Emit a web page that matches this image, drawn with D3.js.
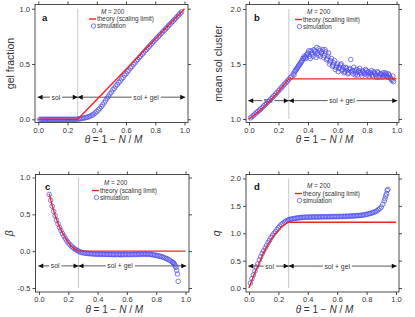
<!DOCTYPE html>
<html><head><meta charset="utf-8">
<script src="https://cdn.jsdelivr.net/npm/d3@7"></script>
<style>
body{margin:0;background:#fff;}
svg{display:block;font-family:"Liberation Sans",Arial,Helvetica,sans-serif;}
</style></head>
<body><svg id="c" width="415" height="317"></svg>
<script>
// ---------- data ----------
const theta = [0.01,0.02,0.03,0.04,0.05,0.06,0.07,0.08,0.09,0.10,
0.11,0.12,0.13,0.14,0.15,0.16,0.17,0.18,0.19,0.20,
0.21,0.22,0.23,0.24,0.25,0.26,0.27,0.28,0.29,0.30,
0.31,0.32,0.33,0.34,0.35,0.36,0.37,0.38,0.39,0.40,
0.41,0.42,0.43,0.44,0.45,0.46,0.47,0.48,0.49,0.50,
0.51,0.52,0.53,0.54,0.55,0.56,0.57,0.58,0.59,0.60,
0.61,0.62,0.63,0.64,0.65,0.66,0.67,0.68,0.69,0.70,
0.71,0.72,0.73,0.74,0.75,0.76,0.77,0.78,0.79,0.80,
0.81,0.82,0.83,0.84,0.85,0.86,0.87,0.88,0.89,0.90,
0.91,0.92,0.93,0.94,0.95,0.96,0.97,0.98];

const gelSim = [0,0,0,0,0,0,0,0,0,0,
0,0,0,0,0,0,0,0,0,0,
0,0,0,0,0,0,0.002,0.004,0.006,0.009,
0.011,0.014,0.017,0.021,0.026,0.032,0.039,0.048,0.058,0.070,
0.084,0.098,0.114,0.131,0.150,0.168,0.190,0.208,0.229,0.245,
0.266,0.280,0.301,0.314,0.333,0.346,0.366,0.378,0.399,0.412,
0.432,0.445,0.464,0.477,0.496,0.510,0.528,0.541,0.559,0.572,
0.588,0.602,0.618,0.631,0.647,0.661,0.676,0.690,0.705,0.718,
0.733,0.746,0.761,0.774,0.789,0.802,0.817,0.830,0.845,0.858,
0.873,0.886,0.900,0.914,0.929,0.943,0.957,0.971];

const solSim = [1.01,1.02,1.033,1.045,1.057,1.068,1.08,1.092,1.105,1.118,
1.13,1.143,1.157,1.17,1.184,1.198,1.212,1.226,1.241,1.256,
1.27,1.285,1.30,1.315,1.33,1.345,1.36,1.375,1.39,1.41,
1.43,1.45,1.47,1.49,1.51,1.53,1.55,1.56,1.58,1.60,
1.57,1.62,1.59,1.63,1.61,1.65,1.58,1.62,1.60,1.63,
1.58,1.61,1.55,1.60,1.52,1.55,1.49,1.53,1.47,1.50,
1.46,1.49,1.44,1.47,1.43,1.46,1.41,1.45,1.54,1.44,
1.47,1.40,1.45,1.43,1.46,1.41,1.44,1.42,1.45,1.40,
1.43,1.41,1.44,1.39,1.42,1.40,1.43,1.38,1.41,1.40,
1.42,1.39,1.41,1.38,1.40,1.37,1.35,1.34];

const solExtraTheta = [0.305,0.315,0.325,0.335,0.345,0.355,0.365,0.375,0.385,0.395,
0.405,0.415,0.425,0.435,0.445,0.455,0.465,0.475,0.485,0.495,
0.505,0.515,0.525,0.535,0.545,0.555,0.565,0.575,0.585,0.595,
0.605,0.615,0.625,0.635,0.645,0.655,0.665,0.675,0.685,0.695,
0.705,0.715,0.725,0.735,0.745,0.755,0.765,0.775,0.785,0.795,
0.805,0.815,0.825,0.835,0.845,0.855,0.865,0.875,0.885,0.895,
0.905,0.915,0.925,0.935,0.945,0.955,0.965,0.975];
const solExtraVal = [1.40,1.44,1.46,1.48,1.50,1.52,1.55,1.57,1.55,1.59,
1.62,1.55,1.60,1.57,1.62,1.56,1.60,1.64,1.57,1.61,
1.56,1.63,1.54,1.57,1.50,1.53,1.48,1.51,1.45,1.48,
1.43,1.47,1.50,1.45,1.42,1.47,1.44,1.42,1.46,1.43,
1.41,1.44,1.42,1.40,1.44,1.42,1.39,1.43,1.41,1.44,
1.42,1.39,1.42,1.40,1.43,1.41,1.38,1.42,1.39,1.41,
1.38,1.40,1.42,1.39,1.41,1.38,1.36,1.39];

const betaSim = [null,null,null,null,null,null,0.77,0.69,0.61,0.54,
0.48,0.42,0.37,0.32,0.28,0.24,0.205,0.17,0.14,0.115,
0.09,0.07,0.052,0.036,0.022,0.01,0.0,-0.01,-0.016,-0.021,
-0.025,-0.028,-0.03,-0.033,-0.034,-0.036,-0.038,-0.039,-0.04,-0.042,
-0.04,-0.043,-0.041,-0.044,-0.042,-0.045,-0.043,-0.046,-0.044,-0.047,
-0.045,-0.048,-0.044,-0.047,-0.045,-0.048,-0.044,-0.047,-0.043,-0.046,
-0.044,-0.047,-0.043,-0.046,-0.042,-0.045,-0.041,-0.044,-0.04,-0.043,
-0.039,-0.042,-0.04,-0.043,-0.04,-0.044,-0.047,-0.05,-0.053,-0.057,
-0.061,-0.066,-0.071,-0.077,-0.084,-0.092,-0.10,-0.11,-0.12,-0.132,
-0.147,-0.165,-0.20,-0.26,-0.41,null,null,null];
const betaExtraTheta = [0.915,0.925,0.935,0.945];
const betaExtraVal = [-0.155,-0.18,-0.22,-0.31];

const qSim = [0.09,0.17,0.24,0.31,0.38,0.44,0.51,0.57,0.63,0.68,
0.73,0.78,0.83,0.87,0.92,0.96,1.0,1.03,1.07,1.10,
1.13,1.16,1.18,1.20,1.22,1.235,1.245,1.255,1.26,1.265,
1.27,1.275,1.28,1.283,1.286,1.289,1.29,1.292,1.294,1.295,
1.293,1.297,1.295,1.299,1.296,1.30,1.297,1.301,1.298,1.302,
1.299,1.303,1.30,1.304,1.30,1.305,1.301,1.306,1.302,1.307,
1.303,1.308,1.304,1.31,1.305,1.312,1.307,1.315,1.31,1.318,
1.313,1.32,1.318,1.325,1.322,1.33,1.328,1.335,1.34,1.345,
1.35,1.36,1.365,1.375,1.385,1.395,1.41,1.43,1.45,1.48,
1.53,1.59,1.68,1.78,null,null,null,null];
const qExtraTheta = [0.925,0.935,0.945];
const qExtraVal = [1.63,1.72,1.80];

const gelTheoryT = [0, 0.27, 1.0];
const gelTheoryV = [0, 0, 1.0];
const solTheoryT = [0, 0.05, 0.10, 0.15, 0.20, 0.27, 1.0];
const solTheoryV = [1.0, 1.05, 1.11, 1.175, 1.25, 1.365, 1.365];
const betaTheoryT = [0.07,0.08,0.09,0.10,0.12,0.14,0.16,0.18,0.20,0.22,0.24,0.26,0.27,1.0];
const betaTheoryV = [0.78,0.70,0.62,0.55,0.43,0.33,0.25,0.18,0.12,0.07,0.035,0.01,0,0];
const qTheoryT = [0,0.02,0.04,0.06,0.08,0.10,0.12,0.14,0.16,0.18,0.20,0.22,0.24,0.27,1.0];
const qTheoryV = [0,0.14,0.28,0.40,0.52,0.65,0.75,0.84,0.92,0.99,1.05,1.11,1.15,1.2,1.2];

const thetaC = 0.27;
const xTicks = [0, 0.2, 0.4, 0.6, 0.8, 1.0];
const gelTicks = [0, 0.5, 1.0];
const solTicks = [1.0, 1.5, 2.0];
const betaTicks = [-0.5, 0, 0.5, 1.0];
const qTicks = [0, 0.5, 1.0, 1.5, 2.0];
const legendTexts = ["M = 200", "theory (scaling limit)", "simulation"];
const regionLabels = ["sol", "sol + gel"];

// ---------- drawing ----------
const svg = d3.select("#c");
const defs = svg.append("defs");
defs.append("marker").attr("id","ah").attr("viewBox","0 0 10 10")
  .attr("refX",10).attr("refY",5).attr("markerWidth",6).attr("markerHeight",5)
  .attr("markerUnits","userSpaceOnUse").attr("orient","auto-start-reverse")
  .append("path").attr("d","M0,0L10,5L0,10Z").attr("fill","#111");

const fmt = v => (v < 0 ? "-" : "") + Math.abs(v).toFixed(1);
const BLUE = "#4f4ff2", RED = "#ff1f1f";

function zip(t, v){ const o=[]; t.forEach((d,i)=>{ if(v[i]!==null && v[i]!==undefined) o.push([d,v[i]]); }); return o; }

function panel(cfg){
  const g = svg.append("g");
  const x = d3.scaleLinear().domain([0,1]).range(cfg.xr);
  const y = d3.scaleLinear().domain(cfg.yd).range(cfg.yr);
  const [fx0,fx1,fy0,fy1] = cfg.frame;

  // vertical gray line
  g.append("line").attr("x1",x(thetaC)).attr("x2",x(thetaC))
    .attr("y1",y(cfg.yd[1])).attr("y2",y(cfg.yd[0]))
    .attr("stroke","#c8c8c8").attr("stroke-width",1);

  // axes
  const tickStyle = s => { s.select(".domain").remove();
    s.selectAll(".tick line").attr("stroke","#222").attr("stroke-width",0.8);
    s.selectAll("text").attr("fill","#333").style("font-size","7.5px").style("font-family","'Liberation Sans',Arial,sans-serif"); };
  g.append("g").attr("transform",`translate(0,${fy1})`)
    .call(d3.axisBottom(x).tickValues(xTicks).tickSize(3).tickPadding(2).tickFormat(fmt)).call(tickStyle);
  g.append("g").attr("transform",`translate(0,${fy0})`)
    .call(d3.axisTop(x).tickValues(xTicks).tickSize(3).tickFormat("")).call(tickStyle);
  g.append("g").attr("transform",`translate(${fx0},0)`)
    .call(d3.axisLeft(y).tickValues(cfg.yt).tickSize(3).tickPadding(2).tickFormat(fmt)).call(tickStyle);
  g.append("g").attr("transform",`translate(${fx1},0)`)
    .call(d3.axisRight(y).tickValues(cfg.yt).tickSize(3).tickFormat("")).call(tickStyle);

  g.append("rect").attr("x",fx0).attr("y",fy0).attr("width",fx1-fx0).attr("height",fy1-fy0)
    .attr("fill","none").attr("stroke","#222").attr("stroke-width",0.8);

  // arrows
  const ay = y(cfg.arrowY);
  [[x(-0.005), x(thetaC)], [x(thetaC), x(1.005)]].forEach(([a,b]) => {
    g.append("line").attr("x1",a).attr("x2",b).attr("y1",ay).attr("y2",ay)
      .attr("stroke","#111").attr("stroke-width",0.7)
      .attr("marker-start","url(#ah)").attr("marker-end","url(#ah)");
  });
  [[regionLabels[0], cfg.solX],[regionLabels[1], cfg.gelX]].forEach(([t,px]) => {
    const tx = g.append("text").attr("x",x(px)).attr("y",ay+2.4).attr("text-anchor","middle")
      .style("font-size","6.8px").attr("fill","#333").text(t);
    const bb = tx.node().getBBox();
    g.insert("rect", () => tx.node()).attr("x",bb.x-1.5).attr("y",ay-2).attr("width",bb.width+3).attr("height",4).attr("fill","#fff");
  });

  // simulation circles
  const pts = zip(theta, cfg.sim).concat(cfg.extra ? zip(cfg.extra[0], cfg.extra[1]) : []);
  g.append("g").selectAll("circle").data(pts).join("circle")
    .attr("cx",d=>x(d[0])).attr("cy",d=>y(d[1])).attr("r",2.3)
    .attr("fill","none").attr("stroke",BLUE).attr("stroke-width",0.75);

  // theory
  const line = d3.line().x(d=>x(d[0])).y(d=>y(d[1])).curve(cfg.smooth ? d3.curveMonotoneX : d3.curveLinear);
  g.append("path").attr("d", line(zip(cfg.thT, cfg.thV)))
    .attr("fill","none").attr("stroke",RED).attr("stroke-width",1.4);

  // panel letter
  g.append("text").attr("x",cfg.letter[1]).attr("y",cfg.letter[2]).style("font-size","9.5px")
    .style("font-weight","bold").attr("fill","#111").text(cfg.letter[0]);

  // legend
  const [lx, ly] = cfg.legend;
  const fs = "6.4px";
  const mt = g.append("text").attr("x",lx+12).attr("y",ly).style("font-size",fs).attr("fill","#333");
  mt.append("tspan").style("font-style","italic").text("M");
  mt.append("tspan").text(legendTexts[0].slice(1));
  g.append("line").attr("x1",lx).attr("x2",lx+7).attr("y1",ly+5.5).attr("y2",ly+5.5).attr("stroke",RED).attr("stroke-width",1.4);
  g.append("text").attr("x",lx+8).attr("y",ly+7.5).style("font-size",fs).attr("fill","#333").text(legendTexts[1]);
  g.append("circle").attr("cx",lx+4.5).attr("cy",ly+12.5).attr("r",2.2).attr("fill","none").attr("stroke",BLUE).attr("stroke-width",0.75);
  g.append("text").attr("x",lx+8).attr("y",ly+14.8).style("font-size",fs).attr("fill","#333").text(legendTexts[2]);

  // x title
  const xt = g.append("text").attr("x",(fx0+fx1)/2+2).attr("y",fy1+20.5).attr("text-anchor","middle")
    .style("font-size","10px").attr("fill","#333");
  xt.append("tspan").style("font-style","italic").text("θ");
  xt.append("tspan").text(" = 1 − ");
  xt.append("tspan").style("font-style","italic").text("N");
  xt.append("tspan").text(" / ");
  xt.append("tspan").style("font-style","italic").text("M");

  // y title
  g.append("text").attr("transform",`translate(${cfg.ytitle[1]},${(fy0+fy1)/2}) rotate(-90)`)
    .attr("text-anchor","middle").style("font-size","10.5px").attr("fill","#333")
    .style("font-style", cfg.ytitle[2] ? "italic" : "normal").text(cfg.ytitle[0]);
}

panel({xr:[38.3,184.5], yd:[0,1], yr:[119.3,8.7], yt:gelTicks, frame:[35,188,4.5,122.5],
  sim:gelSim, thT:gelTheoryT, thV:gelTheoryV, smooth:false, arrowY:0.2, solX:0.12, gelX:0.737,
  letter:["a",42,21], legend:[89,13.5], ytitle:["gel fraction",14,false]});
panel({xr:[249,396.5], yd:[1,2], yr:[119,9], yt:solTicks, frame:[246,399,4.5,122.5],
  sim:solSim, extra:[solExtraTheta,solExtraVal], thT:solTheoryT, thV:solTheoryV, smooth:false, arrowY:1.167, solX:0.13, gelX:0.63,
  letter:["b",254,21], legend:[295,14], ytitle:["mean sol cluster",222,false]});
panel({xr:[39,185.5], yd:[-0.5,1], yr:[288,177.5], yt:betaTicks, frame:[35.5,189,174.5,292],
  sim:betaSim, extra:[betaExtraTheta,betaExtraVal], thT:betaTheoryT, thV:betaTheoryV, smooth:true, arrowY:-0.2, solX:0.11, gelX:0.553,
  letter:["c",45,190], legend:[92,185], ytitle:["β",13,true]});
panel({xr:[249,396], yd:[0,2], yr:[288,178.5], yt:qTicks, frame:[246,399,174.5,292],
  sim:qSim, extra:[qExtraTheta,qExtraVal], thT:qTheoryT, thV:qTheoryV, smooth:true, arrowY:0.4, solX:0.14, gelX:0.60,
  letter:["d",254,190], legend:[295,188], ytitle:["q",220,true]});
</script></body></html>
